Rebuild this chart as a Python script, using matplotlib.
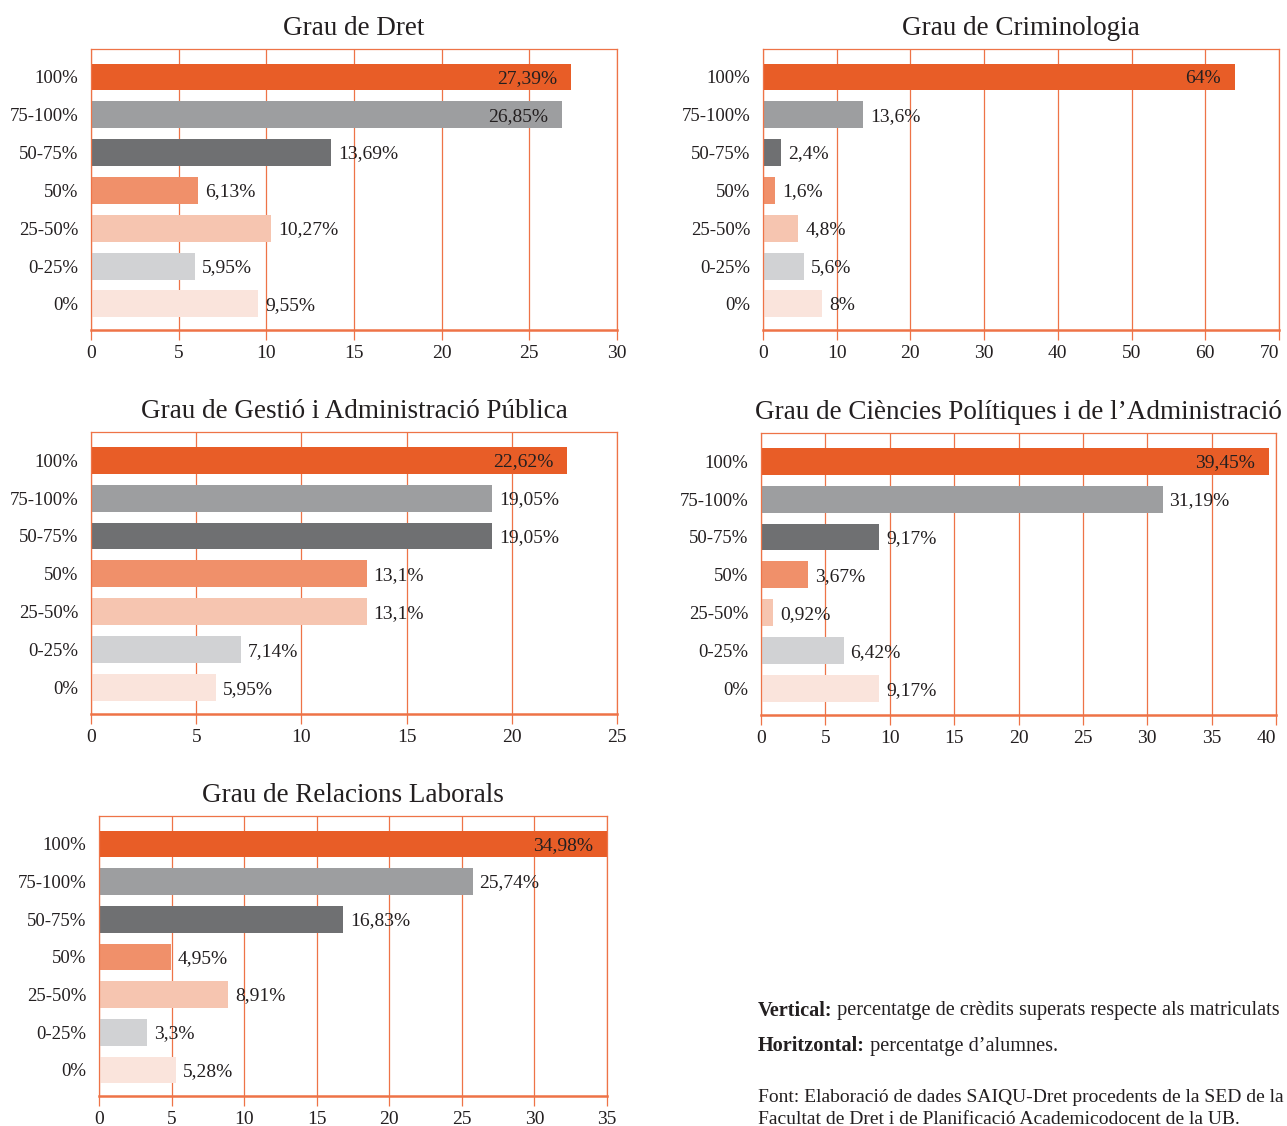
import matplotlib
matplotlib.use("Agg")
from matplotlib import pyplot as plt
import numpy as np

plt.rcParams['font.family'] = ['Liberation Serif', 'DejaVu Serif']

categories = ['100%', '75-100%', '50-75%', '50%', '25-50%', '0-25%', '0%']
bar_colors = ['#E85D27', '#9D9EA0', '#6F7072', '#F0906A', '#F6C5B0', '#D1D2D4', '#FAE4DC']

dret = [27.39, 26.85, 13.69, 6.13, 10.27, 5.95, 9.55]
criminologia = [64, 13.6, 2.4, 1.6, 4.8, 5.6, 8]
gestio = [22.62, 19.05, 19.05, 13.1, 13.1, 7.14, 5.95]
politiques = [39.45, 31.19, 9.17, 3.67, 0.92, 6.42, 9.17]
laborals = [34.98, 25.74, 16.83, 4.95, 8.91, 3.3, 5.28]

titles = ['Grau de Dret', 'Grau de Criminologia',
          'Grau de Gestió i Administració Pública',
          'Grau de Ciències Polítiques i de l\u2019Administració',
          'Grau de Relacions Laborals']
xmaxes = [30, 70, 25, 40, 35]
xsteps = [5, 10, 5, 5, 5]

W, H = 1287, 1126
# axes boxes in pixels: left, top, right, bottom
boxes = [(91, 49, 617, 330), (763, 49, 1279, 330),
         (91, 432, 617, 714), (761, 433, 1276, 715),
         (99, 816, 607, 1096)]

grid_col = '#EE7347'
text_col = '#231F20'

fig = plt.figure(figsize=(W / 100, H / 100), dpi=100)

def fmt(v):
    return str(v).replace('.', ',') + '%'

for data, title, xmax, step, (l, t, r, b) in zip(
        [dret, criminologia, gestio, politiques, laborals], titles, xmaxes, xsteps, boxes):
    ax = fig.add_axes([l / W, 1 - b / H, (r - l) / W, (b - t) / H])
    y = np.arange(len(categories))
    ax.barh(y, data, height=0.71, color=bar_colors, zorder=2)
    ax.set_ylim(6.69, -0.74)
    ax.set_xlim(0, xmax)
    ax.set_xticks(np.arange(0, xmax + step, step))
    ax.set_yticks(y)
    ax.set_yticklabels(categories)
    ax.xaxis.grid(True, color=grid_col, linewidth=0.9, zorder=0)
    ax.set_axisbelow(True)
    for side in ['left', 'right', 'top']:
        ax.spines[side].set_color(grid_col)
        ax.spines[side].set_linewidth(0.9)
    ax.spines['bottom'].set_color(grid_col)
    ax.spines['bottom'].set_linewidth(1.8)
    ax.tick_params(axis='x', colors=grid_col, length=7, width=0.9, pad=4,
                   labelcolor=text_col, labelsize=14)
    ax.tick_params(axis='y', length=0, pad=9, labelcolor=text_col, labelsize=13.5)
    if r > 1270:
        # keep the last tick label inside the figure
        ax.get_xticklabels()[-1].set_horizontalalignment('right')
        ax.get_xticklabels()[-1].set_x(xmax + 0.6)
    ax.set_title(title, fontsize=19.5, color=text_col, pad=10)
    for yi, v in zip(y, data):
        if v > 0.85 * xmax:
            ax.annotate(fmt(v), (v, yi), xytext=(-10, -1), textcoords='offset points',
                        ha='right', va='center', fontsize=14, color=text_col, zorder=3)
        else:
            ax.annotate(fmt(v), (v, yi), xytext=(5, -1), textcoords='offset points',
                        ha='left', va='center', fontsize=14, color=text_col, zorder=3)

# notes
fig.canvas.draw()
renderer = fig.canvas.get_renderer()
x0 = 758 / W
for label, rest, ypx in [('Vertical:', ' percentatge de crèdits superats respecte als matriculats', 1011),
                         ('Horitzontal:', ' percentatge d\u2019alumnes.', 1046)]:
    t1 = fig.text(x0, 1 - ypx / H, label, fontsize=14.6, fontweight='bold',
                  va='center', ha='left', color=text_col)
    bb = t1.get_window_extent(renderer)
    fig.text(bb.x1 / W, 1 - ypx / H, rest, fontsize=14.6, va='center', ha='left', color=text_col)

fig.text(x0, 1 - 1098 / H, 'Font: Elaboració de dades SAIQU-Dret procedents de la SED de la',
         fontsize=14, va='center', ha='left', color=text_col)
fig.text(x0, 1 - 1119 / H, 'Facultat de Dret i de Planificació Academicodocent de la UB.',
         fontsize=14, va='center', ha='left', color=text_col)

fig.savefig('out.png', dpi=100)
